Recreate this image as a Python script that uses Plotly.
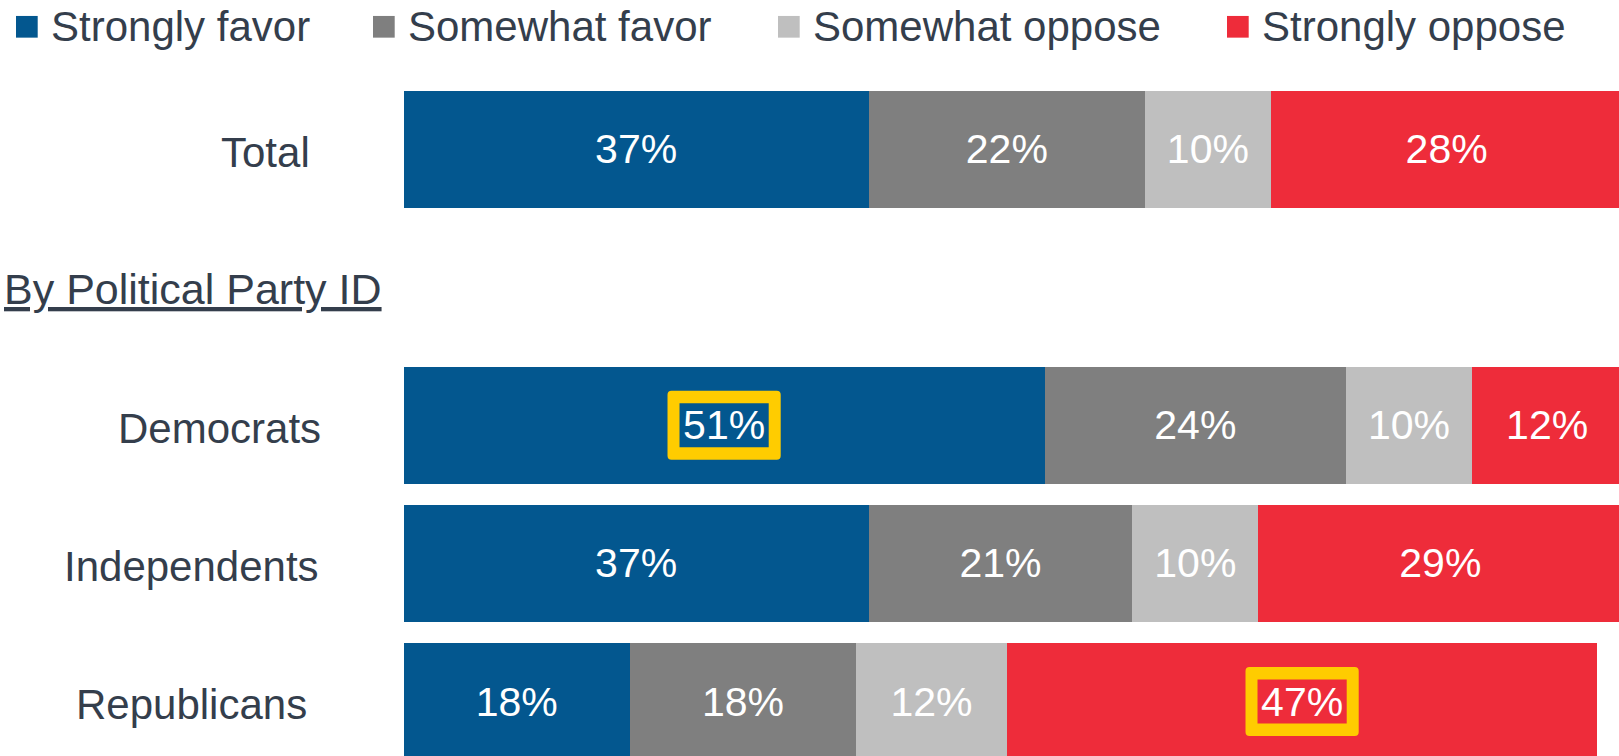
import plotly.graph_objects as go

# Survey rows and response shares (%)
categories = ["Total", "Democrats", "Independents", "Republicans"]
series_names = ["Strongly favor", "Somewhat favor", "Somewhat oppose", "Strongly oppose"]
strongly_favor = [37, 51, 37, 18]
somewhat_favor = [22, 24, 21, 18]
somewhat_oppose = [10, 10, 10, 12]
strongly_oppose = [28, 12, 29, 47]
section_label = "By Political Party ID"
# (row, series) pairs whose value label gets a yellow frame
highlights = [("Democrats", "Strongly favor"), ("Republicans", "Strongly oppose")]

series_values = [strongly_favor, somewhat_favor, somewhat_oppose, strongly_oppose]

# ---- styling ----
W, H = 1619, 756
FONT = "Liberation Sans, Arial, Helvetica, sans-serif"
TEXT_COLOR = "#343E4C"
colors = ["#03578F", "#7F7F7F", "#BFBFBF", "#EE2C3A"]
HILITE = "#FFCC00"
row_order = ["Total", " ", "Democrats", "Independents", "Republicans"]
plot_left_px = 403.7
x_max = 96.72
y_range = [4.394, -1.080]
label_right_px = {"Total": 312, "Democrats": 323, "Independents": 321, "Republicans": 309}
legend_left_px = [16, 373, 778, 1227]
legend_y_px = 26.8
legend_sq = 21.7

fig = go.Figure()
for name, vals, col in zip(series_names, series_values, colors):
    fig.add_trace(go.Bar(
        y=categories, x=vals, name=name, orientation="h",
        marker=dict(color=col, line=dict(width=0)),
        width=0.845,
        text=[f"{v}%" for v in vals],
        textposition="inside", insidetextanchor="middle", textangle=0,
        textfont=dict(family=FONT, size=41, color="white"),
        showlegend=False, hoverinfo="skip",
    ))

shapes = []
annotations = []

# Legend: colour squares + names
for left, name, col in zip(legend_left_px, series_names, colors):
    shapes.append(dict(
        type="rect", xref="paper", yref="paper",
        x0=left / W, x1=(left + legend_sq) / W,
        y0=1 - (legend_y_px - legend_sq / 2) / H, y1=1 - (legend_y_px + legend_sq / 2) / H,
        fillcolor=col, line=dict(width=0), layer="above",
    ))
    annotations.append(dict(
        text=name, xref="paper", yref="paper",
        x=(left + legend_sq + 11.6) / W, y=1 - legend_y_px / H,
        xanchor="left", yanchor="middle", showarrow=False,
        font=dict(family=FONT, size=42, color=TEXT_COLOR),
    ))

# Row labels
for cat in categories:
    annotations.append(dict(
        text=cat, xref="paper", yref="y", x=label_right_px[cat] / W, y=cat,
        xanchor="right", yanchor="middle", yshift=-3, showarrow=False,
        font=dict(family=FONT, size=42, color=TEXT_COLOR),
    ))

# Section heading (underlined)
annotations.append(dict(
    text=section_label, xref="paper", yref="y", x=2 / W, y=" ",
    xanchor="left", yanchor="middle", yshift=-2, showarrow=False,
    font=dict(family=FONT, size=43, color=TEXT_COLOR, lineposition="under"),
))

# Yellow frames around highlighted value labels
ow, oh, r = 56.6, 34.5, 4
iw, ih = 44.6, 22.0
ring = (
    f"M {-ow + r},{-oh} L {ow - r},{-oh} Q {ow},{-oh} {ow},{-oh + r} "
    f"L {ow},{oh - r} Q {ow},{oh} {ow - r},{oh} L {-ow + r},{oh} "
    f"Q {-ow},{oh} {-ow},{oh - r} L {-ow},{-oh + r} Q {-ow},{-oh} {-ow + r},{-oh} Z "
    f"M {-iw},{-ih} L {iw},{-ih} L {iw},{ih} L {-iw},{ih} Z"
)
for row, series in highlights:
    ri = categories.index(row)
    si = series_names.index(series)
    start = sum(series_values[k][ri] for k in range(si))
    center = start + series_values[si][ri] / 2
    shapes.append(dict(
        type="path", xref="x", yref="y",
        xsizemode="pixel", ysizemode="pixel",
        xanchor=center, yanchor=row,
        path=ring, fillcolor=HILITE, fillrule="evenodd",
        line=dict(width=0), layer="above",
    ))

fig.update_layout(
    width=W, height=H,
    margin=dict(l=0, r=0, t=0, b=0, pad=0),
    barmode="stack",
    paper_bgcolor="white", plot_bgcolor="white",
    xaxis=dict(domain=[plot_left_px / W, 1], range=[0, x_max], visible=False, fixedrange=True),
    yaxis=dict(type="category", categoryorder="array", categoryarray=row_order,
               range=y_range, visible=False, fixedrange=True),
    shapes=shapes, annotations=annotations,
    showlegend=False,
)

fig.write_html("out.html")
